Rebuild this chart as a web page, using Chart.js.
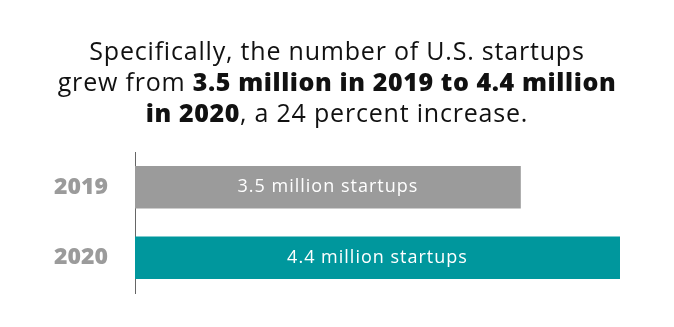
<!DOCTYPE html>
<html lang="en">
<head>
    <meta charset="UTF-8">
    <title>U.S. startups 2019-2020</title>
    <script src="https://cdn.jsdelivr.net/npm/chart.js"></script>
    <style>
        body { margin: 0; background: #fff; }
        #wrap { position: relative; width: 674px; height: 327px; }
        #headline {
            position: absolute; left: 0; top: 35px; width: 674px;
            text-align: center; font-family: "Open Sans", sans-serif;
            font-size: 25px; line-height: 31px; color: #111;
            letter-spacing: 0.8px;
        }
        #headline b { font-weight: 800; letter-spacing: 0.6px; }
        #startupsChart { display: block; }
    </style>
</head>
<body>
    <div id="wrap">
        <div id="headline">
            Specifically, the number of U.S. startups<br>
            grew from <b>3.5 million in 2019 to 4.4 million<br>in 2020</b>, a 24 percent increase.
        </div>
        <canvas id="startupsChart" width="674" height="327"></canvas>
    </div>

    <script>
        // données
        const years = ['2019', '2020'];
        const startups = [3.5, 4.4];
        const barLabels = ['3.5 million startups', '4.4 million startups'];
        const barColors = ['#9b9b9b', '#00979d'];

        // texte blanc au centre de chaque barre
        const barText = {
            id: 'barText',
            afterDatasetsDraw(chart) {
                const ctx = chart.ctx;
                const meta = chart.getDatasetMeta(0);
                ctx.save();
                ctx.fillStyle = '#ffffff';
                ctx.font = '18px "Open Sans", sans-serif';
                ctx.letterSpacing = '1px';
                ctx.textAlign = 'center';
                ctx.textBaseline = 'middle';
                meta.data.forEach((bar, i) => {
                    const cx = (bar.base + bar.x) / 2;
                    ctx.fillText(barLabels[i], cx, bar.y);
                });
                ctx.restore();
            }
        };

        const ctx = document.getElementById('startupsChart').getContext('2d');
        new Chart(ctx, {
            type: 'bar',
            data: {
                labels: years,
                datasets: [{
                    data: startups,
                    backgroundColor: barColors,
                    barPercentage: 0.6,
                    categoryPercentage: 1
                }]
            },
            options: {
                indexAxis: 'y',
                responsive: false,
                animation: false,
                layout: { padding: { top: 152, bottom: 34, right: 54, left: 0 } },
                plugins: { legend: { display: false }, tooltip: { enabled: false } },
                scales: {
                    x: { display: false, min: 0, max: 4.4 },
                    y: {
                        afterFit(scale) {
                            scale.width = 135;
                            // pas de marge verticale ajoutée par les étiquettes
                            scale.paddingTop = 0;
                            scale.paddingBottom = 0;
                        },
                        grid: { display: false, drawTicks: false },
                        border: { display: true, color: '#666', width: 1 },
                        ticks: {
                            padding: 27,
                            color: '#9b9b9b',
                            font: { family: '"Open Sans", sans-serif', size: 23, weight: 800 }
                        }
                    }
                }
            },
            plugins: [barText]
        });
    </script>
</body>
</html>
